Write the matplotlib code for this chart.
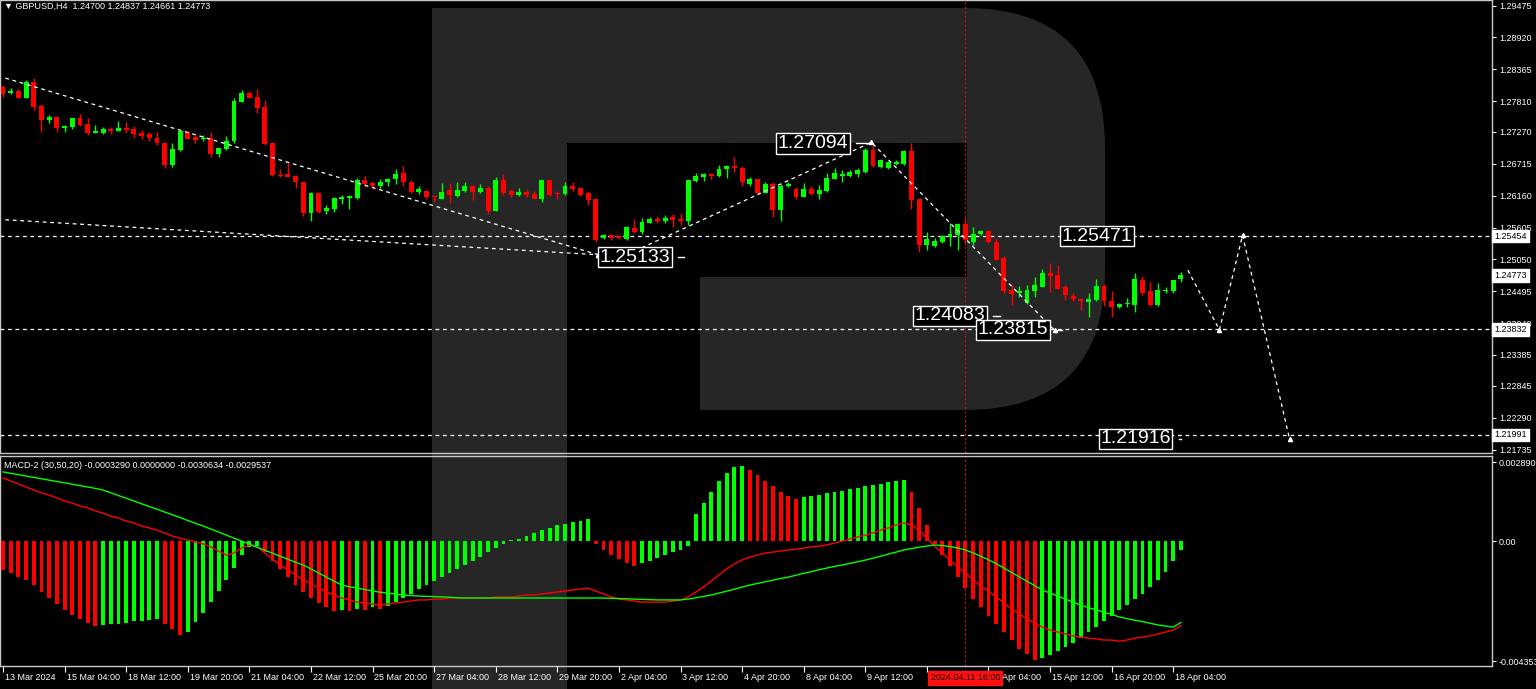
import matplotlib.pyplot as plt
import matplotlib.transforms as mtransforms
from matplotlib.patches import Rectangle, FancyBboxPatch
import numpy as np

plt.rcParams['font.family'] = ['Liberation Sans', 'DejaVu Sans']

W, H = 1536, 689

# GBPUSD H4 candles, first bar = 13 Mar 2024 20:00
opens = [1.2806, 1.2795, 1.2798, 1.2787, 1.2814, 1.2772, 1.2748, 1.2753, 1.2734, 1.2736,
         1.2751, 1.2741, 1.2726, 1.2726, 1.2733, 1.2729, 1.2734, 1.2733, 1.2725, 1.2723,
         1.2717, 1.2708, 1.2669, 1.2696, 1.2727, 1.2719, 1.2714, 1.2717, 1.2689, 1.2697,
         1.2711, 1.2780, 1.2795, 1.2788, 1.2771, 1.2707, 1.2652, 1.2654, 1.2650, 1.2640,
         1.2585, 1.2620, 1.2589, 1.2593, 1.2611, 1.2612, 1.2612, 1.2643, 1.2638, 1.2632,
         1.2639, 1.2645, 1.2655, 1.2639, 1.2622, 1.2625, 1.2615, 1.2611, 1.2626, 1.2615,
         1.2625, 1.2632, 1.2623, 1.2630, 1.2590, 1.2643, 1.2624, 1.2617, 1.2623, 1.2619,
         1.2611, 1.2643, 1.2621, 1.2619, 1.2633, 1.2629, 1.2621, 1.2610, 1.2543, 1.2547,
         1.2546, 1.2540, 1.2560, 1.2553, 1.2569, 1.2575, 1.2571, 1.2578, 1.2576, 1.2571,
         1.2642, 1.2649, 1.2653, 1.2650, 1.2662, 1.2668, 1.2665, 1.2636, 1.2645, 1.2621,
         1.2636, 1.2591, 1.2633, 1.2628, 1.2613, 1.2628, 1.2619, 1.2624, 1.2645, 1.2651,
         1.2651, 1.2653, 1.2657, 1.2696, 1.2666, 1.2665, 1.2672, 1.2672, 1.2694, 1.2611,
         1.2530, 1.2528, 1.2536, 1.2544, 1.2547, 1.2566, 1.2536, 1.2550, 1.2554, 1.2536,
         1.2507, 1.2451, 1.2446, 1.2429, 1.2449, 1.2457, 1.2482, 1.2477, 1.2456, 1.2441,
         1.2436, 1.2431, 1.2434, 1.2458, 1.2433, 1.2422, 1.2427, 1.2425, 1.2469, 1.2449,
         1.2425, 1.2450, 1.2450, 1.24700]
highs = [1.2809, 1.2803, 1.2802, 1.2818, 1.2821, 1.2776, 1.2757, 1.2755, 1.2739, 1.2752,
         1.2758, 1.2752, 1.2739, 1.2736, 1.2736, 1.2746, 1.2744, 1.2737, 1.2730, 1.2727,
         1.2727, 1.2710, 1.2707, 1.2730, 1.2729, 1.2721, 1.2722, 1.2727, 1.2699, 1.2720,
         1.2786, 1.2801, 1.2798, 1.2802, 1.2783, 1.2709, 1.2663, 1.2674, 1.2652, 1.2640,
         1.2622, 1.2622, 1.2600, 1.2614, 1.2617, 1.2618, 1.2647, 1.2651, 1.2639, 1.2645,
         1.2646, 1.2662, 1.2668, 1.2643, 1.2632, 1.2626, 1.2617, 1.2638, 1.2638, 1.2640,
         1.2640, 1.2635, 1.2636, 1.2632, 1.2649, 1.2653, 1.2627, 1.2630, 1.2626, 1.2624,
         1.2643, 1.2643, 1.2625, 1.2640, 1.2639, 1.2630, 1.2624, 1.2611, 1.2550, 1.2550,
         1.2548, 1.2563, 1.2575, 1.2577, 1.2578, 1.2581, 1.2582, 1.2584, 1.2586, 1.2644,
         1.2655, 1.2655, 1.2656, 1.2669, 1.2669, 1.2683, 1.2668, 1.2648, 1.2645, 1.2639,
         1.2639, 1.2636, 1.2639, 1.2631, 1.2638, 1.2632, 1.2635, 1.2655, 1.2664, 1.2661,
         1.2661, 1.2664, 1.2699, 1.2709, 1.2680, 1.2677, 1.2678, 1.2696, 1.2707, 1.2611,
         1.2553, 1.2542, 1.2547, 1.2568, 1.2569, 1.2577, 1.2562, 1.2556, 1.2557, 1.2542,
         1.2510, 1.2460, 1.2458, 1.2460, 1.2475, 1.2488, 1.2498, 1.2495, 1.2460, 1.2446,
         1.2437, 1.2447, 1.2470, 1.2462, 1.2449, 1.2429, 1.2438, 1.2481, 1.2476, 1.2466,
         1.2463, 1.2456, 1.2469, 1.24837]
lows = [1.2788, 1.2793, 1.2786, 1.2786, 1.2765, 1.2727, 1.2743, 1.2727, 1.2727, 1.2732,
        1.2738, 1.2722, 1.2725, 1.2724, 1.2723, 1.2728, 1.2725, 1.2716, 1.2715, 1.2711,
        1.2704, 1.2664, 1.2666, 1.2694, 1.2714, 1.2708, 1.2711, 1.2684, 1.2683, 1.2696,
        1.2708, 1.2780, 1.2787, 1.2760, 1.2704, 1.2651, 1.2648, 1.2649, 1.2630, 1.2581,
        1.2572, 1.2585, 1.2584, 1.2588, 1.2601, 1.2592, 1.2611, 1.2631, 1.2628, 1.2629,
        1.2633, 1.2636, 1.2632, 1.2620, 1.2619, 1.2610, 1.2605, 1.2610, 1.2604, 1.2614,
        1.2623, 1.2608, 1.2620, 1.2584, 1.2589, 1.2617, 1.2614, 1.2615, 1.2614, 1.2610,
        1.2605, 1.2615, 1.2610, 1.2617, 1.2625, 1.2616, 1.2600, 1.2536, 1.2540, 1.2539,
        1.2540, 1.2539, 1.2551, 1.2550, 1.2568, 1.2568, 1.2568, 1.2561, 1.2565, 1.2565,
        1.2640, 1.2642, 1.2645, 1.2649, 1.2646, 1.2658, 1.2632, 1.2632, 1.2619, 1.2620,
        1.2579, 1.2572, 1.2631, 1.2611, 1.2613, 1.2617, 1.2610, 1.2623, 1.2645, 1.2640,
        1.2649, 1.2648, 1.2655, 1.2666, 1.2664, 1.2662, 1.2669, 1.2669, 1.2592, 1.2518,
        1.2521, 1.2527, 1.2533, 1.2528, 1.2521, 1.2533, 1.2530, 1.2547, 1.2534, 1.2503,
        1.2446, 1.2425, 1.2440, 1.2428, 1.2440, 1.2456, 1.2448, 1.2453, 1.2434, 1.2433,
        1.2417, 1.2405, 1.2433, 1.2424, 1.2405, 1.2420, 1.2422, 1.2414, 1.2443, 1.2424,
        1.2424, 1.2446, 1.2447, 1.24661]
closes = [1.2794, 1.2798, 1.2787, 1.2814, 1.2771, 1.2748, 1.2753, 1.2734, 1.2738, 1.2751,
          1.2739, 1.2725, 1.2729, 1.2732, 1.2729, 1.2734, 1.2731, 1.2723, 1.2720, 1.2716,
          1.2707, 1.2669, 1.2697, 1.2729, 1.2715, 1.2713, 1.2717, 1.2689, 1.2699, 1.2712,
          1.2781, 1.2795, 1.2787, 1.2769, 1.2706, 1.2652, 1.2651, 1.2649, 1.2640, 1.2585,
          1.2620, 1.2588, 1.2595, 1.2612, 1.2614, 1.2615, 1.2643, 1.2637, 1.2632, 1.2640,
          1.2645, 1.2654, 1.2639, 1.2623, 1.2627, 1.2614, 1.2613, 1.2623, 1.2617, 1.2626,
          1.2633, 1.2622, 1.2630, 1.2590, 1.2643, 1.2621, 1.2617, 1.2623, 1.2617, 1.2610,
          1.2643, 1.2617, 1.2619, 1.2633, 1.2627, 1.2617, 1.2608, 1.2539, 1.2548, 1.2543,
          1.2542, 1.2561, 1.2553, 1.2570, 1.2575, 1.2571, 1.2577, 1.2574, 1.2571, 1.2643,
          1.2651, 1.2653, 1.2650, 1.2662, 1.2668, 1.2665, 1.2640, 1.2645, 1.2621, 1.2636,
          1.2591, 1.2633, 1.2636, 1.2613, 1.2628, 1.2619, 1.2626, 1.2646, 1.2655, 1.2653,
          1.2657, 1.2661, 1.2696, 1.2668, 1.2678, 1.2674, 1.2675, 1.2693, 1.2608, 1.2530,
          1.2540, 1.2537, 1.2546, 1.2549, 1.2566, 1.2539, 1.2550, 1.2554, 1.2536, 1.2504,
          1.2449, 1.2445, 1.2449, 1.2451, 1.2461, 1.2482, 1.2476, 1.2454, 1.2442, 1.2435,
          1.2433, 1.2436, 1.2458, 1.2433, 1.2422, 1.2428, 1.2428, 1.2470, 1.2446, 1.2425,
          1.2451, 1.2451, 1.2469, 1.24773]

# MACD-2 (30,50,20), values in units of 1e-4
macd_hist = [-10.4, -11.5, -13.0, -14.0, -15.9, -18.4, -20.6, -22.8, -25.0, -26.7, -28.2, -29.7, -30.8,
             -30.5, -30.2, -30.0, -29.6, -29.0, -28.8, -28.5, -28.2,
             -30.0, -32.0, -34.0,
             -33.0, -29.5, -26.0, -22.0, -18.0, -14.0, -9.5, -5.0,
             -2.0, -1.5,
             -4.0, -7.0, -10.0, -13.0, -16.0, -18.5, -20.5, -22.5, -24.0, -25.5,
             -25.0, -25.5, -24.5, -25.0, -24.0, -24.5,
             -23.5, -22.0, -20.5, -19.0, -17.5, -16.0, -14.5, -13.0, -11.5, -10.0, -8.5, -7.0, -5.5,
             -4.0, -2.5, -1.0, 0.5,
             1.0, 2.0, 3.0, 4.0, 5.0, 6.0, 6.5, 7.0, 7.5, 8.0,
             -1.0, -3.0, -5.0, -6.5, -8.0, -9.0,
             -8.0, -7.0, -6.0, -5.0, -4.0, -3.0, -1.5,
             10.0, 14.0, 18.0, 22.0, 25.0, 27.0, 27.5,
             26.0, 24.0, 22.0, 20.0, 18.0, 16.5, 15.5,
             16.0, 16.5, 17.0, 17.5, 18.0, 18.5, 19.0, 19.5, 20.0, 20.5, 21.0, 21.5, 22.0, 22.5,
             18.0, 12.0, 6.0,
             -1.0, -5.0, -9.0, -13.0, -17.0, -21.0, -24.0, -27.0, -30.0, -33.0, -36.0, -39.0, -41.0, -43.0,
             -42.5, -41.5, -40.0, -38.5, -37.0, -35.0, -33.0, -31.0, -29.0, -27.0, -25.0, -23.0, -21.0,
             -19.0, -16.5, -14.0, -11.0, -7.0, -3.3]
macd_red = [23.1, 22.0, 20.9, 19.8, 18.7, 17.6, 16.9, 15.8, 14.7, 14.0,
            12.9, 12.2, 11.1, 10.3, 9.2, 8.5, 7.4, 6.7, 5.6, 4.9,
            4.1, 3.1, 1.9, 1.2, 0.5, -0.2, -0.9, -2.0, -3.5, -5.0,
            -4.2, -2.4, -1.3, -2.0, -4.2, -6.4, -8.6, -10.4, -12.2, -14.0,
            -15.5, -16.9, -18.4, -19.5, -20.6, -21.3, -22.1, -22.4, -22.8, -23.2,
            -22.8, -22.4, -22.1, -21.7, -21.3, -21.3, -21.0, -21.0, -20.6, -20.6,
            -20.6, -20.6, -20.6, -20.6, -20.2, -20.2, -20.2, -19.9, -19.5, -19.5,
            -19.1, -18.8, -18.4, -18.1, -17.7, -17.3, -17.0, -18.1, -19.1, -20.2,
            -21.0, -21.3, -21.7, -22.1, -22.1, -22.1, -22.1, -21.7, -21.3, -20.2,
            -18.4, -16.6, -14.4, -12.2, -10.0, -8.2, -6.8, -5.7, -5.0, -4.2,
            -3.9, -3.5, -3.1, -2.8, -2.4, -2.0, -1.7, -1.3, -0.6, 0.1,
            0.9, 1.6, 2.3, 3.1, 4.1, 4.9, 6.0, 6.7, 6.0, 4.1,
            1.2, -1.7, -4.2, -6.8, -9.3, -11.5, -14.0, -16.2, -18.1, -20.2,
            -22.4, -24.6, -26.4, -28.2, -29.7, -31.2, -32.3, -33.0, -33.7, -34.4,
            -34.8, -35.2, -35.5, -35.9, -35.9, -36.3, -35.9, -35.2, -34.8, -34.4,
            -33.7, -33.0, -32.3, -30.6]
macd_green = [25.3, 24.8, 24.3, 23.8, 23.3, 22.8, 22.3, 21.8, 21.3, 20.8, 20.3, 19.8, 19.3, 18.7,
              17.7, 16.7, 15.7, 14.7, 13.7, 12.7, 11.7, 10.7, 9.7, 8.7, 7.6, 6.6, 5.6,
              4.5, 3.4, 2.3, 1.2, 0.1,
              -1.0, -2.1, -3.2, -4.3, -5.4, -6.5, -7.6, -8.6,
              -10.0, -11.5, -13.0, -14.5, -15.9,
              -16.5, -17.0, -17.5, -18.0, -18.5, -18.8, -19.2, -19.5,
              -19.7, -19.9, -20.0, -20.1, -20.2, -20.3, -20.5, -20.6,
              -20.6, -20.6, -20.6, -20.6, -20.6, -20.6, -20.6, -20.6, -20.6,
              -20.6, -20.6, -20.6, -20.6, -20.6, -20.6, -20.6, -20.6, -20.6,
              -20.7, -20.8, -20.9, -21.0, -21.1, -21.2, -21.3, -21.3, -21.3, -21.3,
              -21.0, -20.5, -20.0, -19.5, -18.8, -18.1, -17.4, -16.6, -15.9,
              -15.3, -14.7, -14.1, -13.5, -13.0,
              -12.3, -11.6, -11.0, -10.3, -9.7,
              -9.1, -8.6, -8.0, -7.4, -6.8,
              -6.1, -5.4, -4.6, -3.9, -3.1,
              -2.6, -2.1, -1.7, -1.3,
              -1.5, -1.9, -2.4, -3.1,
              -4.2, -5.4, -6.7, -8.1, -9.7,
              -11.3, -12.9, -14.5, -16.1, -17.7,
              -18.8, -19.9, -21.0, -22.1, -23.2,
              -24.1, -24.9, -25.8, -26.6, -27.5,
              -28.1, -28.7, -29.2, -29.8, -30.4,
              -30.8, -31.2, -29.5]

# axis labels
date_ticks = [0, 8, 16, 24, 32, 40, 48, 56, 64, 72, 80, 88, 96, 104, 112, 120, 128, 136, 144, 152]
date_labels = ['13 Mar 2024', '15 Mar 04:00', '18 Mar 12:00', '19 Mar 20:00', '21 Mar 04:00',
               '22 Mar 12:00', '25 Mar 20:00', '27 Mar 04:00', '28 Mar 12:00', '29 Mar 20:00',
               '2 Apr 04:00', '3 Apr 12:00', '4 Apr 20:00', '8 Apr 04:00', '9 Apr 12:00',
               '10 Apr 20:00', '12 Apr 04:00', '15 Apr 12:00', '16 Apr 20:00', '18 Apr 04:00']
price_ticks = [1.29475, 1.28920, 1.28365, 1.27810, 1.27270, 1.26715, 1.26160, 1.25605,
               1.25050, 1.24495, 1.23940, 1.23385, 1.22845, 1.22290, 1.21735]
levels = [1.25454, 1.23832, 1.21991]
last_price = 1.24773
cursor_bar = 125

# analysis drawings (bar index, price)
trend_a = ([0.3, 77.3], [1.2821, 1.2513])
trend_b = ([0.3, 77.3], [1.2574, 1.2513])
wave_path = ([77.3, 81.0, 112.8, 136.6], [1.2513, 1.2513, 1.2709, 1.2381])
forecast_path = ([153.9, 158.0, 161.0, 167.1], [1.2486, 1.2382, 1.2547, 1.2192])
tags = [('1.27094', 100.6, 1.2707, 112.8), ('1.25133', 77.5, 1.2509, 88.5),
        ('1.25471', 137.5, 1.25454, 148.0), ('1.24083', 118.4, 1.2407, 129.5),
        ('1.23815', 126.6, 1.2382, 137.5), ('1.21916', 142.5, 1.2192, 153.0)]

GREEN = '#00ff00'
RED = '#ff0000'
GRID = '#c8c8c8'

fig = plt.figure(figsize=(W / 100, H / 100), dpi=100, facecolor='black')

# watermark logo behind everything
bg = fig.add_axes([0, 0, 1, 1], zorder=0)
bg.set_xlim(0, W)
bg.set_ylim(H, 0)
bg.axis('off')
logo = '#262626'
bg.add_patch(FancyBboxPatch((432, 8), 673, 402, boxstyle='round,pad=0,rounding_size=140',
                            fc=logo, ec='none'))
bg.add_patch(Rectangle((432, 8), 400, 402, fc=logo, ec='none'))
bg.add_patch(Rectangle((432, 8), 135, 681, fc=logo, ec='none'))
bg.add_patch(Rectangle((567, 143), 400, 134, fc='black', ec='none'))
bg.add_patch(Rectangle((567, 277), 133, 133, fc='black', ec='none'))

ax = fig.add_axes([0, 1 - 453 / H, 1492 / W, 453 / H], zorder=1)
axm = fig.add_axes([0, 1 - 666 / H, 1492 / W, 210 / H], zorder=1)
for a in (ax, axm):
    a.set_facecolor('none')
    a.set_xlim(-0.39, 193.4)
    for s in a.spines.values():
        s.set_color(GRID)
        s.set_linewidth(1)

ax.set_ylim(1.21674, 1.29571)
axm.set_ylim(-0.004535, 0.003109)

# candles
x = np.arange(len(closes))
o = np.array(opens)
c = np.array(closes)
up = c >= o
cols = np.where(up, GREEN, RED)
ax.vlines(x, lows, highs, colors=cols, lw=1, zorder=3)
body = np.maximum(np.abs(c - o), 0.00012)
ax.bar(x, body, bottom=np.minimum(o, c), width=0.64, color=cols, lw=0, zorder=4)

# level lines
for lv in levels:
    ax.axhline(lv, color='white', lw=0.9, dashes=(3, 3), zorder=2)
ax.axvline(cursor_bar, color='#d01010', lw=0.8, dashes=(2, 2), zorder=2)
axm.axvline(cursor_bar, color='#d01010', lw=0.8, dashes=(2, 2), zorder=2)

# drawings
for px, py in (trend_a, trend_b, wave_path, forecast_path):
    ax.plot(px, py, color='white', lw=0.9, dashes=(3, 3), zorder=5)
    ax.plot(px[1:], py[1:], ls='none', marker='^', ms=3, color='white', zorder=6)
for txt, bx, py, endx in tags:
    ax.text(bx, py, txt, color='white', fontsize=14, ha='left', va='center', zorder=8,
            bbox=dict(fc='black', ec='white', lw=1, boxstyle='square,pad=0.08'))
    ax.plot([bx + 10.2, endx], [py, py], color='white', lw=1, zorder=7)

# right price axis
ax.yaxis.tick_right()
ax.set_yticks(price_ticks)
ax.set_yticklabels([f'{t:.5f}' for t in price_ticks])
ax.tick_params(axis='y', colors='white', labelsize=6.5, length=3, pad=2, width=0.8)
ax.tick_params(axis='x', bottom=False, labelbottom=False)
ytrans = mtransforms.blended_transform_factory(ax.transAxes, ax.transData)
for lv in levels + [last_price]:
    ax.text(1.0015, lv, f'{lv:.5f}', transform=ytrans, fontsize=6.5, color='black',
            va='center', ha='left', zorder=9, clip_on=False,
            bbox=dict(fc='white', ec='white', boxstyle='square,pad=0.2'))

# MACD panel
hist = np.array(macd_hist) * 1e-4
rising = np.concatenate([[False], np.diff(hist) >= 0])
axm.bar(x, hist, width=0.5, color=np.where(rising, GREEN, RED), lw=0, zorder=3)
axm.plot(x, np.array(macd_red) * 1e-4, color=RED, lw=1, zorder=4)
axm.plot(x, np.array(macd_green) * 1e-4, color=GREEN, lw=1, zorder=4)
axm.yaxis.tick_right()
axm.set_yticks([0.0028906, 0.0, -0.0043531])
axm.set_yticklabels(['0.0028906', '0.00', '-0.0043531'])
axm.tick_params(axis='y', colors='white', labelsize=6.5, length=3, pad=2, width=0.8)
axm.set_xticks(date_ticks)
axm.tick_params(axis='x', colors='white', length=4, width=0.8, labelbottom=False)
trans = mtransforms.blended_transform_factory(axm.transData, axm.transAxes)
for t, lab in zip(date_ticks, date_labels):
    axm.text(t + 0.25, -0.035, lab, transform=trans, fontsize=6.5, color='white',
             ha='left', va='top', clip_on=False, zorder=5)
axm.text(cursor_bar, -0.035, '2024.04.11 16:00', transform=trans, fontsize=6.5, color='#200000',
         ha='center', va='top', zorder=20, clip_on=False,
         bbox=dict(fc='#ff1010', ec='#ff1010', boxstyle='square,pad=0.25'))

# headers
fig.text(4 / W, 1 - 6 / H, '\u25bc GBPUSD,H4  1.24700 1.24837 1.24661 1.24773',
         color='white', fontsize=6.5, va='center', ha='left')
fig.text(4 / W, 1 - 465 / H, 'MACD-2 (30,50,20) -0.0003290 0.0000000 -0.0030634 -0.0029537',
         color='white', fontsize=6.5, va='center', ha='left')

fig.savefig('out.png', dpi=100, facecolor='black')
